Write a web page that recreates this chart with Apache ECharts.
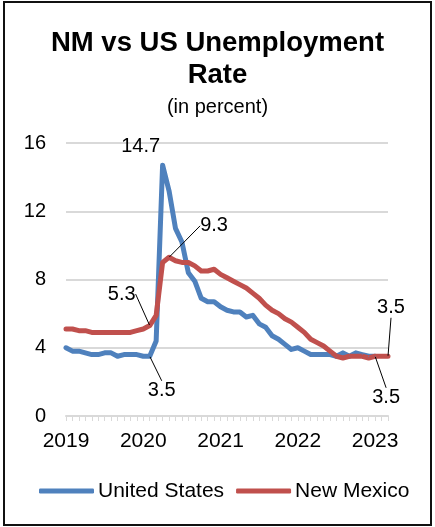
<!DOCTYPE html>
<html>
<head>
<meta charset="utf-8">
<script src="https://cdn.jsdelivr.net/npm/echarts@6/dist/echarts.min.js"></script>
<style>
  html, body { margin: 0; padding: 0; background: #fff; }
  #chart { width: 435px; height: 527px; }
  #frame {
    position: absolute; left: 3px; top: 1px; width: 429px; height: 525px;
    border: 2px solid #111; box-sizing: border-box; pointer-events: none;
  }
</style>
</head>
<body>
<div id="chart"></div>
<div id="frame"></div>
<script>
// monthly categories, Jan 2019 - Mar 2023
const months = [
  '2019-01','2019-02','2019-03','2019-04','2019-05','2019-06','2019-07','2019-08','2019-09','2019-10','2019-11','2019-12',
  '2020-01','2020-02','2020-03','2020-04','2020-05','2020-06','2020-07','2020-08','2020-09','2020-10','2020-11','2020-12',
  '2021-01','2021-02','2021-03','2021-04','2021-05','2021-06','2021-07','2021-08','2021-09','2021-10','2021-11','2021-12',
  '2022-01','2022-02','2022-03','2022-04','2022-05','2022-06','2022-07','2022-08','2022-09','2022-10','2022-11','2022-12',
  '2023-01','2023-02','2023-03'
];

// unemployment rate, percent
const usRate = [
  4.0, 3.8, 3.8, 3.7, 3.6, 3.6, 3.7, 3.7, 3.5, 3.6, 3.6, 3.6,
  3.5, 3.5, 4.4, 14.7, 13.2, 11.0, 10.2, 8.4, 7.9, 6.9, 6.7, 6.7,
  6.4, 6.2, 6.1, 6.1, 5.8, 5.9, 5.4, 5.2, 4.7, 4.5, 4.2, 3.9,
  4.0, 3.8, 3.6, 3.6, 3.6, 3.6, 3.5, 3.7, 3.5, 3.7, 3.6, 3.5,
  3.5
];
const nmRate = [
  5.1, 5.1, 5.0, 5.0, 4.9, 4.9, 4.9, 4.9, 4.9, 4.9, 4.9, 5.0,
  5.1, 5.3, 5.9, 9.0, 9.3, 9.1, 9.0, 9.0, 8.8, 8.5, 8.5, 8.6,
  8.3, 8.1, 7.9, 7.7, 7.5, 7.2, 6.9, 6.5, 6.2, 6.0, 5.7, 5.5,
  5.2, 4.9, 4.5, 4.3, 4.1, 3.8, 3.5, 3.4, 3.5, 3.5, 3.5, 3.4,
  3.5, 3.5, 3.5
];

// which points get a value label, and how far the label is pushed from its default spot
const usCallouts = {
  13: { pos: 'bottom', dx: 12, dy: 19, line: true },
  15: { pos: 'top', dx: -22, dy: -3, line: false },
  48: { pos: 'bottom', dx: 11, dy: 26, line: true }
};
const nmCallouts = {
  13: { pos: 'top', dx: -28, dy: -16, line: true },
  16: { pos: 'top', dx: 45, dy: -16, line: true },
  50: { pos: 'top', dx: 3, dy: -33, line: true }
};

const FONT = '"Liberation Sans", Arial, sans-serif';
const BLUE = '#4f81bd';
const RED = '#c0504d';

function buildData(values, callouts) {
  return values.map((v, i) => {
    const c = callouts[i];
    if (!c) return v;
    return {
      value: v,
      label: { show: true, position: c.pos },
      labelLine: { show: c.line }
    };
  });
}

function layoutFor(callouts) {
  return function (p) {
    const c = callouts[p.dataIndex];
    if (!c) return {};
    return { dx: c.dx, dy: c.dy };
  };
}

const chart = echarts.init(document.getElementById('chart'));

const lineSeries = (name, color, values, callouts) => ({
  name: name,
  type: 'line',
  data: buildData(values, callouts),
  symbol: 'circle',
  symbolSize: 1,
  showSymbol: true,
  itemStyle: { color: color },
  lineStyle: { color: color, width: 5, cap: 'round', join: 'round' },
  label: { show: false, color: '#000', fontSize: 20, fontFamily: FONT },
  labelLine: { show: false, lineStyle: { color: '#000', width: 1 } },
  labelLayout: layoutFor(callouts),
  emphasis: { disabled: true },
  animation: false
});

chart.setOption({
  animation: false,
  title: {
    text: 'NM vs US Unemployment\nRate',
    subtext: '(in percent)',
    left: 'center',
    top: 22,
    padding: [5, 9, 5, 0],
    itemGap: 5,
    textStyle: { fontSize: 27.5, fontWeight: 'bold', color: '#000', lineHeight: 32, fontFamily: FONT },
    subtextStyle: { fontSize: 20, color: '#000', lineHeight: 22, fontFamily: FONT }
  },
  legend: {
    top: 480,
    left: 39,
    padding: 0,
    icon: 'roundRect',
    itemWidth: 55,
    itemHeight: 5,
    itemGap: 12,
    textStyle: { fontSize: 21, lineHeight: 22, color: '#000', fontFamily: FONT, padding: [0, 0, 0, -1] },
    data: ['United States', 'New Mexico']
  },
  grid: { left: 66, right: 47, top: 143, bottom: 111, containLabel: false },
  xAxis: {
    type: 'category',
    boundaryGap: false,
    data: months,
    axisLine: { lineStyle: { color: '#d9d9d9', width: 2 } },
    axisTick: { show: true, interval: 0, length: 5, lineStyle: { color: '#d9d9d9', width: 1 } },
    axisLabel: {
      interval: (i) => i % 12 === 0,
      formatter: (v) => v.slice(0, 4),
      color: '#000', fontSize: 21, fontFamily: FONT, margin: 15
    }
  },
  yAxis: {
    type: 'value',
    min: 0, max: 16, interval: 4,
    axisLine: { show: false },
    axisTick: { show: false },
    axisLabel: { color: '#000', fontSize: 20, fontFamily: FONT, margin: 20 },
    splitLine: { lineStyle: { color: '#d9d9d9', width: 2 } }
  },
  series: [
    lineSeries('United States', BLUE, usRate, usCallouts),
    lineSeries('New Mexico', RED, nmRate, nmCallouts)
  ]
});
</script>
</body>
</html>
